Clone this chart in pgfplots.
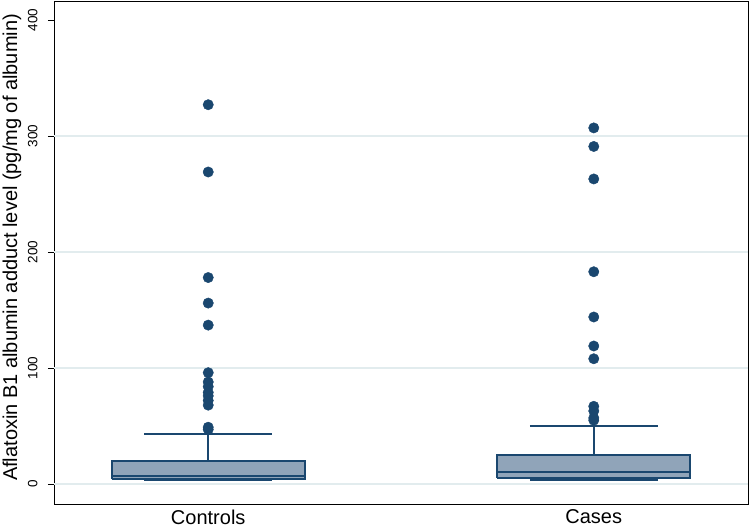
\documentclass[border=0pt]{standalone}
\usepackage{pgfplots}
\pgfplotsset{compat=1.18}
\usepackage{fontspec}
\setmainfont{Liberation Sans}
\definecolor{navy}{RGB}{26,71,111}
\definecolor{boxfill}{RGB}{144,164,185}
\definecolor{gridc}{RGB}{226,236,238}

\begin{document}
\begin{tikzpicture}
\useasboundingbox (-54pt,-23pt) rectangle (696pt,504pt);
\begin{axis}[
  at={(0pt,0pt)}, anchor=south west,
  scale only axis,
  width=694pt, height=503pt,
  xmin=0.6, xmax=2.4,
  ymin=-17.2, ymax=416.4,
  axis line style={black, line width=0.9pt},
  xtick={1,2},
  xticklabels={Controls,Cases},
  xtick style={draw=none},
  ytick={0,100,200,300,400},
  ytick pos=left, xtick pos=bottom,
  tick align=outside,
  major tick length=6pt,
  ytick style={black, line width=0.8pt},
  /pgf/number format/assume math mode=true,
  yticklabel style={font=\fontsize{13.5}{16}\selectfont, rotate=90, anchor=south, yshift=7pt},
  xticklabel style={font=\fontsize{20}{24}\selectfont, anchor=north, yshift=4pt},
  every axis y label/.style={at={(axis description cs:0,0.51)}, xshift=-42pt, rotate=90, anchor=center, font=\fontsize{20}{24}\selectfont},
  ylabel={Aflatoxin B1 albumin adduct level (pg/mg of albumin)},
]
% grid
\addplot[gridc, line width=1.1pt] coordinates {(0.6,0) (2.4,0)};
\addplot[gridc, line width=1.1pt] coordinates {(0.6,100) (2.4,100)};
\addplot[gridc, line width=1.1pt] coordinates {(0.6,200) (2.4,200)};
\addplot[gridc, line width=1.1pt] coordinates {(0.6,300) (2.4,300)};

% Controls: box, median, whiskers
\addplot[navy, line width=1.9pt, fill=boxfill] coordinates {(0.75,4.0) (1.25,4.0) (1.25,19.8) (0.75,19.8) (0.75,4.0)};
\addplot[navy, line width=1.9pt] coordinates {(0.75,6.6) (1.25,6.6)};
\addplot[navy, line width=1.9pt] coordinates {(1,19.8) (1,43.4)};
\addplot[navy, line width=1.9pt] coordinates {(0.834,43.4) (1.166,43.4)};
\addplot[navy, line width=1.9pt] coordinates {(1,4.0) (1,3.2)};
\addplot[navy, line width=1.9pt] coordinates {(0.834,3.2) (1.166,3.2)};

% Cases: box, median, whiskers
\addplot[navy, line width=1.9pt, fill=boxfill] coordinates {(1.75,5.2) (2.25,5.2) (2.25,24.7) (1.75,24.7) (1.75,5.2)};
\addplot[navy, line width=1.9pt] coordinates {(1.75,10.6) (2.25,10.6)};
\addplot[navy, line width=1.9pt] coordinates {(2,24.7) (2,50.3)};
\addplot[navy, line width=1.9pt] coordinates {(1.834,50.3) (2.166,50.3)};
\addplot[navy, line width=1.9pt] coordinates {(2,5.2) (2,3.2)};
\addplot[navy, line width=1.9pt] coordinates {(1.834,3.2) (2.166,3.2)};

% outliers
\addplot[only marks, mark=*, mark size=5.2pt, mark options={draw=navy, fill=navy}]
  coordinates {(1,327) (1,269) (1,178) (1,156) (1,137) (1,96) (1,88) (1,84) (1,79) (1,76) (1,72) (1,68) (1,49) (1,47)};
\addplot[only marks, mark=*, mark size=5.2pt, mark options={draw=navy, fill=navy}]
  coordinates {(2,307) (2,291) (2,263) (2,183) (2,144) (2,119) (2,108) (2,67) (2,63) (2,57) (2,55)};
\end{axis}
\end{tikzpicture}
\end{document}
